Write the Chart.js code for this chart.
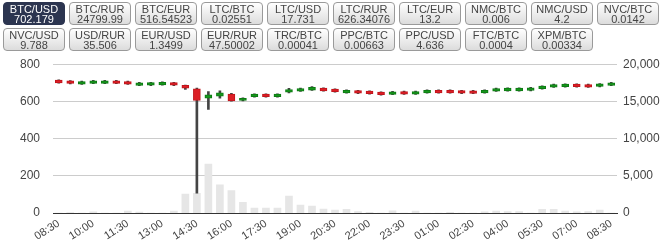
<!DOCTYPE html>
<html>
<head>
<meta charset="utf-8">
<script src="https://cdn.jsdelivr.net/npm/chart.js@4"></script>
<style>
body { margin: 0; background: #fff; font-family: "Liberation Sans", Arial, sans-serif; }
#pairs { position: relative; height: 52px; width: 663px; z-index: 1; }
.pair {
    position: absolute; width: 60px; height: 20px;
    border: 1px solid #9a9a9a; border-radius: 4px;
    background: linear-gradient(#ffffff, #dcdcdc);
    color: #444; font-size: 11px; line-height: 10px; text-align: center;
    padding-top: 1px; box-sizing: content-box;
}
.pair.active { background: #2c3550; border-color: #2c3550; color: #fff; }
#wrap { position: relative; width: 663px; height: 206px; margin-top: -8px; }
</style>
</head>
<body>
<div id="pairs"></div>
<div id="wrap"><canvas id="chart"></canvas></div>
<script>
var pairNames = ['BTC/USD', 'BTC/RUR', 'BTC/EUR', 'LTC/BTC', 'LTC/USD', 'LTC/RUR', 'LTC/EUR', 'NMC/BTC', 'NMC/USD', 'NVC/BTC',
                 'NVC/USD', 'USD/RUR', 'EUR/USD', 'EUR/RUR', 'TRC/BTC', 'PPC/BTC', 'PPC/USD', 'FTC/BTC', 'XPM/BTC'];
var pairPrices = ['702.179', '24799.99', '516.54523', '0.02551', '17.731', '626.34076', '13.2', '0.006', '4.2', '0.0142',
                  '9.788', '35.506', '1.3499', '47.50002', '0.00041', '0.00663', '4.636', '0.0004', '0.00334'];

var times = ['08:30', '09:00', '09:30', '10:00', '10:30', '11:00', '11:30', '12:00', '12:30', '13:00',
             '13:30', '14:00', '14:30', '15:00', '15:30', '16:00', '16:30', '17:00', '17:30', '18:00',
             '18:30', '19:00', '19:30', '20:00', '20:30', '21:00', '21:30', '22:00', '22:30', '23:00',
             '23:30', '00:00', '00:30', '01:00', '01:30', '02:00', '02:30', '03:00', '03:30', '04:00',
             '04:30', '05:00', '05:30', '06:00', '06:30', '07:00', '07:30', '08:00', '08:30'];
var opens  = [714, 710, 693, 697, 697, 711, 707, 686, 687, 689, 701, 686, 668, 618, 628, 639, 605, 625, 639, 625,
              650, 655, 661, 671, 666, 646, 658, 655, 650, 638, 653, 639, 646, 660, 660, 658, 657, 646, 655, 657,
              657, 659, 668, 677, 679, 693, 691, 680, 686];
var closes = [700, 696, 707, 711, 711, 697, 693, 700, 701, 703, 687, 671, 605, 635, 646, 603, 617, 639, 625, 639,
              664, 669, 675, 657, 652, 660, 644, 641, 636, 652, 639, 653, 660, 646, 646, 644, 643, 660, 669, 671,
              671, 673, 682, 691, 693, 679, 677, 694, 700];
var highs  = [716, 712, 709, 713, 713, 713, 709, 702, 703, 705, 703, 688, 672, 653, 657, 644, 619, 641, 641, 641,
              670, 672, 680, 673, 668, 662, 660, 657, 652, 654, 655, 655, 662, 662, 662, 660, 659, 662, 671, 673,
              673, 675, 684, 693, 695, 695, 693, 696, 703];
var lows   = [698, 694, 691, 695, 695, 695, 691, 684, 685, 687, 685, 664, 107, 557, 617, 601, 603, 623, 623, 623,
              646, 653, 659, 655, 650, 644, 642, 639, 634, 636, 637, 637, 644, 644, 644, 642, 641, 644, 653, 655,
              655, 657, 666, 675, 677, 677, 675, 678, 684];
var volumes = [0, 60, 0, 170, 0, 0, 270, 130, 0, 0, 270, 2550, 2640, 6580, 3800, 3000, 1430, 670, 670, 670,
               2280, 1070, 940, 540, 400, 500, 200, 100, 0, 300, 0, 250, 0, 0, 100, 0, 0, 150, 250, 200,
               200, 0, 500, 500, 250, 150, 200, 400, 0];
var priceTicks = [0, 200, 400, 600, 800];
var volumeTicks = [0, 5000, 10000, 15000, 20000];

var box = document.getElementById('pairs');
for (var i = 0; i < pairNames.length; i++) {
    var b = document.createElement('div');
    b.className = 'pair' + (i == 0 ? ' active' : '');
    b.style.left = (3 + (i % 10) * 66) + 'px';
    b.style.top = (2 + Math.floor(i / 10) * 26) + 'px';
    b.innerHTML = pairNames[i] + '<br>' + pairPrices[i];
    box.appendChild(b);
}

var bodyColors = [];
for (var i = 0; i < opens.length; i++) {
    bodyColors.push(closes[i] < opens[i] ? '#dc1f26' : '#16961c');
}
var borderColors = bodyColors.map(c => c == '#dc1f26' ? '#c0141b' : '#0c7a12');

var tickFont = { family: '"Liberation Sans", Arial, sans-serif', size: 12 };

new Chart(document.getElementById('chart'), {
    type: 'bar',
    data: {
        labels: times,
        datasets: [{
            label: 'body',
            data: opens.map((o, i) => [o, closes[i]]),
            backgroundColor: bodyColors,
            borderColor: borderColors,
            borderWidth: 1,
            borderSkipped: false,
            barThickness: 7,
            grouped: false,
            yAxisID: 'y'
        }, {
            label: 'wick',
            data: lows.map((l, i) => [l, highs[i]]),
            backgroundColor: '#444',
            barThickness: 2,
            grouped: false,
            yAxisID: 'y'
        }, {
            label: 'volume',
            data: volumes,
            backgroundColor: '#e6e6e6',
            barThickness: 7,
            grouped: false,
            yAxisID: 'y1'
        }]
    },
    options: {
        responsive: true,
        maintainAspectRatio: false,
        animation: false,
        layout: { padding: { top: 2, left: 0, right: 0, bottom: 0 } },
        plugins: { legend: { display: false }, tooltip: { enabled: false } },
        scales: {
            x: {
                offset: true,
                grid: { display: false, drawTicks: false },
                border: { display: true, color: '#333', width: 1 },
                afterFit: function(ax) { ax.height = 37; },
                ticks: {
                    autoSkip: false, minRotation: 33, maxRotation: 33, padding: 4,
                    color: '#444', font: { family: tickFont.family, size: 11 },
                    callback: function(v, idx) { return idx % 3 == 0 ? times[idx] : ''; }
                }
            },
            y: {
                position: 'left', min: 0, max: 800,
                afterBuildTicks: function(ax) { ax.ticks = priceTicks.map(v => ({ value: v })); },
                afterFit: function(ax) { ax.width = 53; },
                border: { display: false },
                grid: { drawTicks: false, color: ctx => ctx.tick.value == 0 ? '#333' : '#cccccc' },
                ticks: { padding: 13, color: '#444', font: tickFont }
            },
            y1: {
                position: 'right', min: 0, max: 20000,
                afterBuildTicks: function(ax) { ax.ticks = volumeTicks.map(v => ({ value: v })); },
                afterFit: function(ax) { ax.width = 46; },
                border: { display: false },
                grid: { display: false, drawTicks: false },
                ticks: { padding: 6, color: '#444', font: tickFont,
                         callback: v => v.toLocaleString('en-US') }
            }
        }
    }
});
</script>
</body>
</html>
